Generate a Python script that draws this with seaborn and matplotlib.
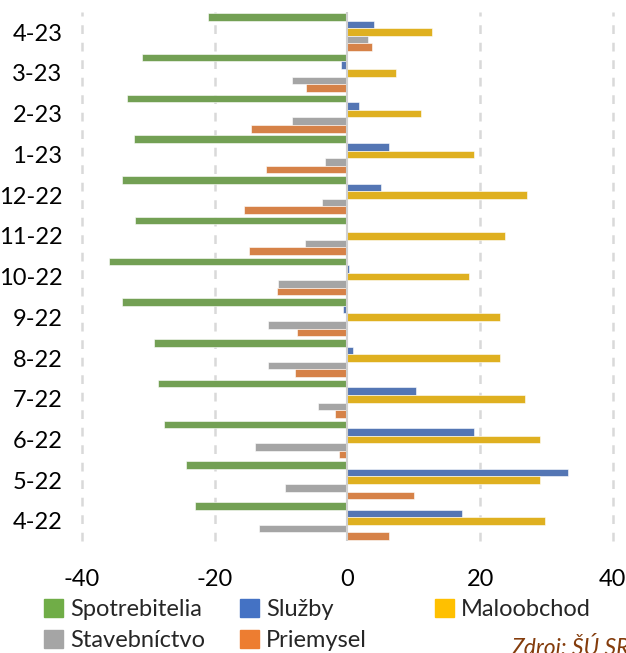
import pandas as pd
import matplotlib.pyplot as plt
import matplotlib.patches as mpatches
import seaborn as sns

# months, oldest first
months = ["4-22", "5-22", "6-22", "7-22", "8-22", "9-22", "10-22",
          "11-22", "12-22", "1-23", "2-23", "3-23", "4-23"]

spotrebitelia = [-22.9, -24.4, -27.6, -28.6, -29.2, -33.9, -35.9, -32.0, -33.9, -32.2, -33.2, -30.9, -21.0]
sluzby = [17.3, 33.3, 19.0, 10.3, 0.8, -0.7, 0.3, -0.2, 5.0, 6.3, 1.7, -0.9, 4.0]
maloobchod = [29.7, 29.0, 29.0, 26.7, 23.0, 23.0, 18.3, 23.7, 27.0, 19.0, 11.1, 7.3, 12.7]
stavebnictvo = [-13.4, -9.4, -13.9, -4.4, -11.9, -11.9, -10.5, -6.4, -3.9, -3.4, -8.3, -8.3, 3.1]
priemysel = [6.3, 10.0, -1.3, -1.9, -7.9, -7.6, -10.6, -14.9, -15.6, -12.2, -14.6, -6.2, 3.7]

series_names = ["Spotrebitelia", "Služby", "Maloobchod", "Stavebníctvo", "Priemysel"]
colors = ["#70AD47", "#4472C4", "#FFC000", "#A5A5A5", "#ED7D31"]

rows = []
for name, vals in zip(series_names, [spotrebitelia, sluzby, maloobchod, stavebnictvo, priemysel]):
    for m, v in zip(months, vals):
        rows.append({"month": m, "series": name, "value": v})
df = pd.DataFrame(rows)

sns.set_style("white")
plt.rcParams["font.family"] = ["Lato", "DejaVu Sans"]
plt.rcParams["axes.unicode_minus"] = False

fig = plt.figure(figsize=(6.26, 6.53), dpi=100)
ax = fig.add_axes([0.131, 0.171, 0.848, 0.811])

sns.barplot(data=df, x="value", y="month", hue="series", orient="h",
            order=months[::-1], hue_order=series_names, palette=colors,
            width=0.93, errorbar=None, legend=False, ax=ax,
            edgecolor="white", linewidth=0.4)

ax.set_xlim(-40, 40)
ax.set_xticks([-40, -20, 0, 20, 40])
for gx in [-40, -20, 20, 40]:
    ax.axvline(gx, color="#D9D9D9", lw=1.8, ls=(0, (3.5, 3.5)), clip_on=False, zorder=0)
ax.axvline(0, color="#D0D0D0", lw=1.5, zorder=3)

ax.set_xlabel("")
ax.set_ylabel("")
ax.tick_params(axis="both", length=0, labelsize=17, colors="black")
ax.tick_params(axis="y", pad=14)
ax.tick_params(axis="x", pad=20)
sns.despine(ax=ax, left=True, bottom=True)

# legend, one block per column like the original
handles = {n: mpatches.Patch(color=c, label=n) for n, c in zip(series_names, colors)}
columns = [(["Spotrebitelia", "Stavebníctvo"], 40),
           (["Služby", "Priemysel"], 236),
           (["Maloobchod"], 431)]
for names, px in columns:
    leg = fig.legend([handles[n] for n in names], names,
                     loc="upper left", bbox_to_anchor=(px / 626 - 0.012, 1 - 587 / 653),
                     frameon=False, fontsize=17, handlelength=0.8, handleheight=0.8,
                     handletextpad=0.3, labelspacing=0.42, borderpad=0)

fig.text(511 / 626, 7 / 653, "Zdroj: ŠÚ SR", fontsize=16.5, style="italic",
         color="#843C0C", ha="left", va="center")

fig.savefig("out.png", dpi=100)
